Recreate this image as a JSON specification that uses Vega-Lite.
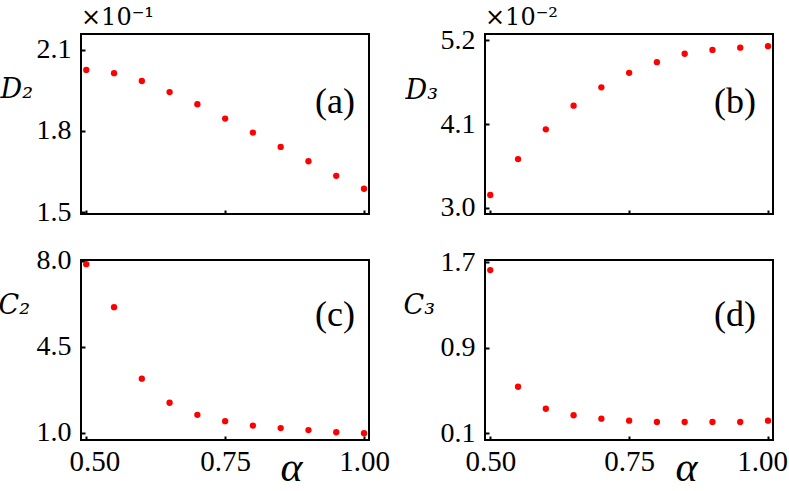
{
  "$schema": "https://vega.github.io/schema/vega-lite/v6.json",
  "background": "white",
  "padding": {"left": -3, "top": 4, "right": 0, "bottom": 0},
  "bounds": "flush",
  "columns": 2,
  "spacing": {"row": 46, "column": 116},
  "data": {
    "values": [
      {"alpha": 0.50, "D2": 2.026, "D3": 3.17, "C2": 7.87, "C3": 1.625},
      {"alpha": 0.55, "D2": 2.014, "D3": 3.64, "C2": 6.12, "C3": 0.533},
      {"alpha": 0.60, "D2": 1.985, "D3": 4.03, "C2": 3.21, "C3": 0.327},
      {"alpha": 0.65, "D2": 1.944, "D3": 4.34, "C2": 2.23, "C3": 0.266},
      {"alpha": 0.70, "D2": 1.899, "D3": 4.58, "C2": 1.74, "C3": 0.234},
      {"alpha": 0.75, "D2": 1.846, "D3": 4.77, "C2": 1.48, "C3": 0.215},
      {"alpha": 0.80, "D2": 1.794, "D3": 4.91, "C2": 1.30, "C3": 0.203},
      {"alpha": 0.85, "D2": 1.741, "D3": 5.02, "C2": 1.20, "C3": 0.203},
      {"alpha": 0.90, "D2": 1.688, "D3": 5.07, "C2": 1.12, "C3": 0.203},
      {"alpha": 0.95, "D2": 1.634, "D3": 5.10, "C2": 1.03, "C3": 0.203},
      {"alpha": 1.00, "D2": 1.586, "D3": 5.12, "C2": 0.99, "C3": 0.215}
    ]
  },
  "concat": [
    {
      "width": 288, "height": 180,
      "layer": [
        {
          "mark": {"type": "circle", "size": 40, "color": "#ff0000", "opacity": 1},
          "encoding": {
            "x": {"field": "alpha", "type": "quantitative",
                  "scale": {"domain": [0.4905, 1.009], "nice": false, "zero": false},
                  "axis": {"values": [0.5, 0.75, 1.0], "labels": false, "title": null}},
            "y": {"field": "D2", "type": "quantitative",
                  "scale": {"domain": [1.4926, 2.159], "nice": false, "zero": false},
                  "axis": {"values": [1.5, 1.8, 2.1], "format": ".1f", "title": "D₂",
                           "titleX": -81, "titleY": 63}}
          }
        },
        {
          "data": {"values": [{"t": "(a)"}]},
          "mark": {"type": "text", "fontSize": 36, "font": "Liberation Serif", "align": "center", "baseline": "middle", "color": "black"},
          "encoding": {
            "x": {"datum": 0.9478, "type": "quantitative"},
            "y": {"datum": 1.907, "type": "quantitative"},
            "text": {"field": "t"}
          }
        },
        {
          "data": {"values": [{"t": "×10⁻¹"}]},
          "mark": {"type": "text", "fontSize": 24, "font": "DejaVu Serif", "align": "left", "baseline": "alphabetic", "color": "black"},
          "encoding": {
            "x": {"datum": 0.4905, "type": "quantitative"},
            "y": {"datum": 2.192, "type": "quantitative"},
            "text": {"field": "t"}
          }
        }
      ]
    },
    {
      "width": 288, "height": 180,
      "layer": [
        {
          "mark": {"type": "circle", "size": 40, "color": "#ff0000", "opacity": 1},
          "encoding": {
            "x": {"field": "alpha", "type": "quantitative",
                  "scale": {"domain": [0.4905, 1.009], "nice": false, "zero": false},
                  "axis": {"values": [0.5, 0.75, 1.0], "labels": false, "title": null}},
            "y": {"field": "D3", "type": "quantitative",
                  "scale": {"domain": [2.921, 5.279], "nice": false, "zero": false},
                  "axis": {"values": [3.0, 4.1, 5.2], "format": ".1f", "title": "D₃",
                           "titleX": -80, "titleY": 64}}
          }
        },
        {
          "data": {"values": [{"t": "(b)"}]},
          "mark": {"type": "text", "fontSize": 36, "font": "Liberation Serif", "align": "center", "baseline": "middle", "color": "black"},
          "encoding": {
            "x": {"datum": 0.9406, "type": "quantitative"},
            "y": {"datum": 4.388, "type": "quantitative"},
            "text": {"field": "t"}
          }
        },
        {
          "data": {"values": [{"t": "×10⁻²"}]},
          "mark": {"type": "text", "fontSize": 24, "font": "DejaVu Serif", "align": "left", "baseline": "alphabetic", "color": "black"},
          "encoding": {
            "x": {"datum": 0.4905, "type": "quantitative"},
            "y": {"datum": 5.397, "type": "quantitative"},
            "text": {"field": "t"}
          }
        }
      ]
    },
    {
      "width": 288, "height": 180,
      "layer": [
        {
          "mark": {"type": "circle", "size": 40, "color": "#ff0000", "opacity": 1},
          "encoding": {
            "x": {"field": "alpha", "type": "quantitative",
                  "scale": {"domain": [0.4905, 1.009], "nice": false, "zero": false},
                  "axis": {"values": [0.5, 0.75, 1.0], "format": ".2f", "title": "α",
                           "titleX": 210, "titleY": 40,
                           "labelOffset": {"condition": {"test": "datum.value == 0.5", "value": 8}, "value": 0}}},
            "y": {"field": "C2", "type": "quantitative",
                  "scale": {"domain": [0.715, 8.04], "nice": false, "zero": false},
                  "axis": {"values": [1.0, 4.5, 8.0], "format": ".1f", "title": "C₂",
                           "titleX": -83, "titleY": 53}}
          }
        },
        {
          "data": {"values": [{"t": "(c)"}]},
          "mark": {"type": "text", "fontSize": 36, "font": "Liberation Serif", "align": "center", "baseline": "middle", "color": "black"},
          "encoding": {
            "x": {"datum": 0.9478, "type": "quantitative"},
            "y": {"datum": 5.80, "type": "quantitative"},
            "text": {"field": "t"}
          }
        }
      ]
    },
    {
      "width": 288, "height": 180,
      "layer": [
        {
          "mark": {"type": "circle", "size": 40, "color": "#ff0000", "opacity": 1},
          "encoding": {
            "x": {"field": "alpha", "type": "quantitative",
                  "scale": {"domain": [0.4905, 1.009], "nice": false, "zero": false},
                  "axis": {"values": [0.5, 0.75, 1.0], "format": ".2f", "title": "α",
                           "titleX": 201, "titleY": 40,
                           "labelOffset": {"condition": {"test": "datum.value == 1", "value": -6}, "value": 0}}},
            "y": {"field": "C3", "type": "quantitative",
                  "scale": {"domain": [0.0345, 1.719], "nice": false, "zero": false},
                  "axis": {"values": [0.1, 0.9, 1.7], "format": ".1f", "title": "C₃",
                           "titleX": -82, "titleY": 53}}
          }
        },
        {
          "data": {"values": [{"t": "(d)"}]},
          "mark": {"type": "text", "fontSize": 36, "font": "Liberation Serif", "align": "center", "baseline": "middle", "color": "black"},
          "encoding": {
            "x": {"datum": 0.9406, "type": "quantitative"},
            "y": {"datum": 1.204, "type": "quantitative"},
            "text": {"field": "t"}
          }
        }
      ]
    }
  ],
  "config": {
    "view": {"stroke": "black", "strokeWidth": 2},
    "axis": {
      "grid": false,
      "domain": false,
      "tickSize": -4,
      "tickWidth": 2,
      "tickColor": "black",
      "labelFont": "Liberation Serif",
      "labelColor": "black",
      "titleFont": "Liberation Serif",
      "titleFontStyle": "italic",
      "titleFontWeight": "normal",
      "titleColor": "black",
      "titleAngle": 0
    },
    "axisY": {
      "labelFontSize": 28,
      "labelPadding": 14,
      "titleFont": "DejaVu Serif",
      "titleFontSize": 27,
      "titleAlign": "left",
      "titleBaseline": "alphabetic"
    },
    "axisX": {
      "labelFontSize": 29,
      "labelPadding": 11,
      "titleFontSize": 42,
      "titleAlign": "center",
      "titleBaseline": "alphabetic"
    }
  }
}
